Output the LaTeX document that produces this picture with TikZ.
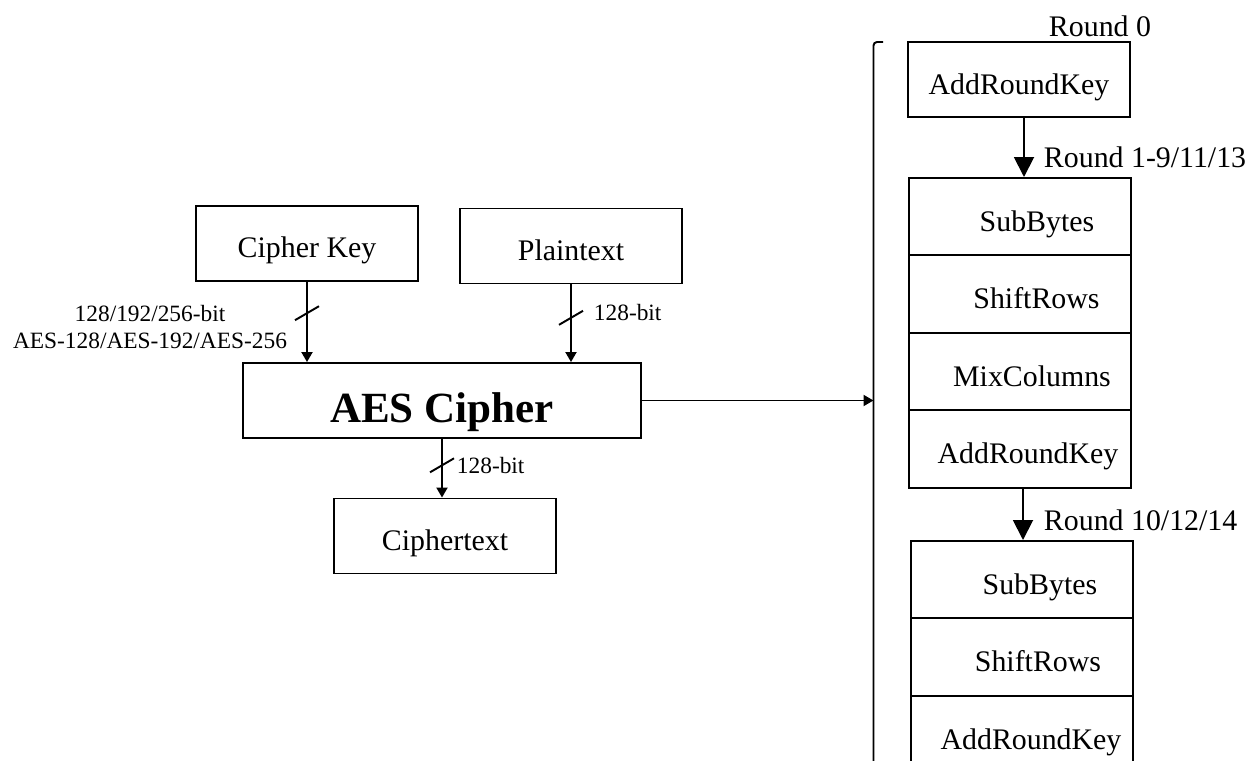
\documentclass[tikz,border=0pt]{standalone}
\usepackage{fontspec}
\setmainfont{Liberation Serif}
\usetikzlibrary{shapes.multipart,arrows.meta,calc}

% one row of a round stack: fixed height, text pushed right by #1
\newcommand{\rowtext}[2]{\rule[-0.46cm]{0pt}{1.51cm}\hspace*{#1}#2}

\begin{document}
\begin{tikzpicture}[x=0.02cm,y=-0.02cm,line width=1.1pt,
  font=\fontsize{17}{20}\selectfont,
  box/.style={draw, minimum width=4.44cm, minimum height=1.5cm, inner sep=0pt, text height=0.56cm, text depth=0pt},
  stack/.style={rectangle split, rectangle split parts=#1, draw, inner xsep=0pt, inner ysep=0pt, text width=4.44cm, text centered},
  bits/.style={font=\fontsize{13.3}{15.4}\selectfont, inner sep=0pt, align=center},
  lbl/.style={inner sep=0pt, anchor=west},
  small/.style={-{Triangle[width=0.22cm,length=0.2cm]}},
  big/.style={-{Triangle[width=0.4cm,length=0.4cm]}},
  bus/.pic={\draw (-12,7) -- (12,-7);}]
  \useasboundingbox (0,0) rectangle (1252,761);

  % cipher inputs and output
  \node[box] (key) at (307,243.5) {Cipher Key};
  \node[box] (plain) at (571,246) {Plaintext};
  \node[box, minimum width=7.96cm, text height=0.86cm, font=\fontsize{24.5}{28}\selectfont\bfseries] (aes) at (442,400.5) {AES Cipher};
  \node[box] (ct) at (445,536) {Ciphertext};

  \draw[small] (key.south) -- (key.south |- aes.north);
  \draw[small] (plain.south) -- (plain.south |- aes.north);
  \draw[small] (aes.south) -- (aes.south |- ct.north);
  \draw ($(key.south)!0.39!(key.south |- aes.north)$) pic{bus};
  \draw ($(plain.south)!0.43!(plain.south |- aes.north)$) pic{bus};
  \draw ($(aes.south)!0.45!(aes.south |- ct.north)$) pic{bus};

  \node[bits] (keybits) at (150,327) {128/192/256-bit\\AES-128/AES-192/AES-256};
  \node[bits, anchor=west] (ptbits) at (593,313) {128-bit};
  \node[bits, anchor=west] (ctbits) at (456,466) {128-bit};

  % bracket round the rounds
  \coordinate (brk) at (873.5,42);
  \draw[rounded corners=2pt] (883,42) -- (brk) -- (873.5,775);
  \draw[small] (aes.east) -- (aes.east -| brk);

  % round 0
  \node[box, text height=0.6cm] (r0) at (1019,79.5) {AddRoundKey};
  \node[lbl] (round0) at (1048,26.5) {Round 0};

  % main rounds
  \node[stack=4, anchor=north] (mid) at (1020,177) {
  \nodepart{one}\rowtext{0.68cm}{SubBytes}
  \nodepart{two}\rowtext{0.66cm}{ShiftRows}
  \nodepart{three}\rowtext{0.48cm}{MixColumns}
  \nodepart{four}\rowtext{0.32cm}{AddRoundKey}
  };
  \draw[big] ([xshift=1mm]r0.south) -- ([xshift=1mm]r0.south |- mid.north);
  \node[lbl] (roundmid) at (1043,157) {Round 1-9/11/13};

  % final round
  \node[stack=3, anchor=north] (last) at (1022,540) {
  \nodepart{one}\rowtext{0.72cm}{SubBytes}
  \nodepart{two}\rowtext{0.64cm}{ShiftRows}
  \nodepart{three}\rowtext{0.36cm}{AddRoundKey}
  };
  \draw[big] ([xshift=0.6mm]mid.south) -- ([xshift=0.6mm]mid.south |- last.north);
  \node[lbl] (roundlast) at (1043,520) {Round 10/12/14};
\end{tikzpicture}
\end{document}
